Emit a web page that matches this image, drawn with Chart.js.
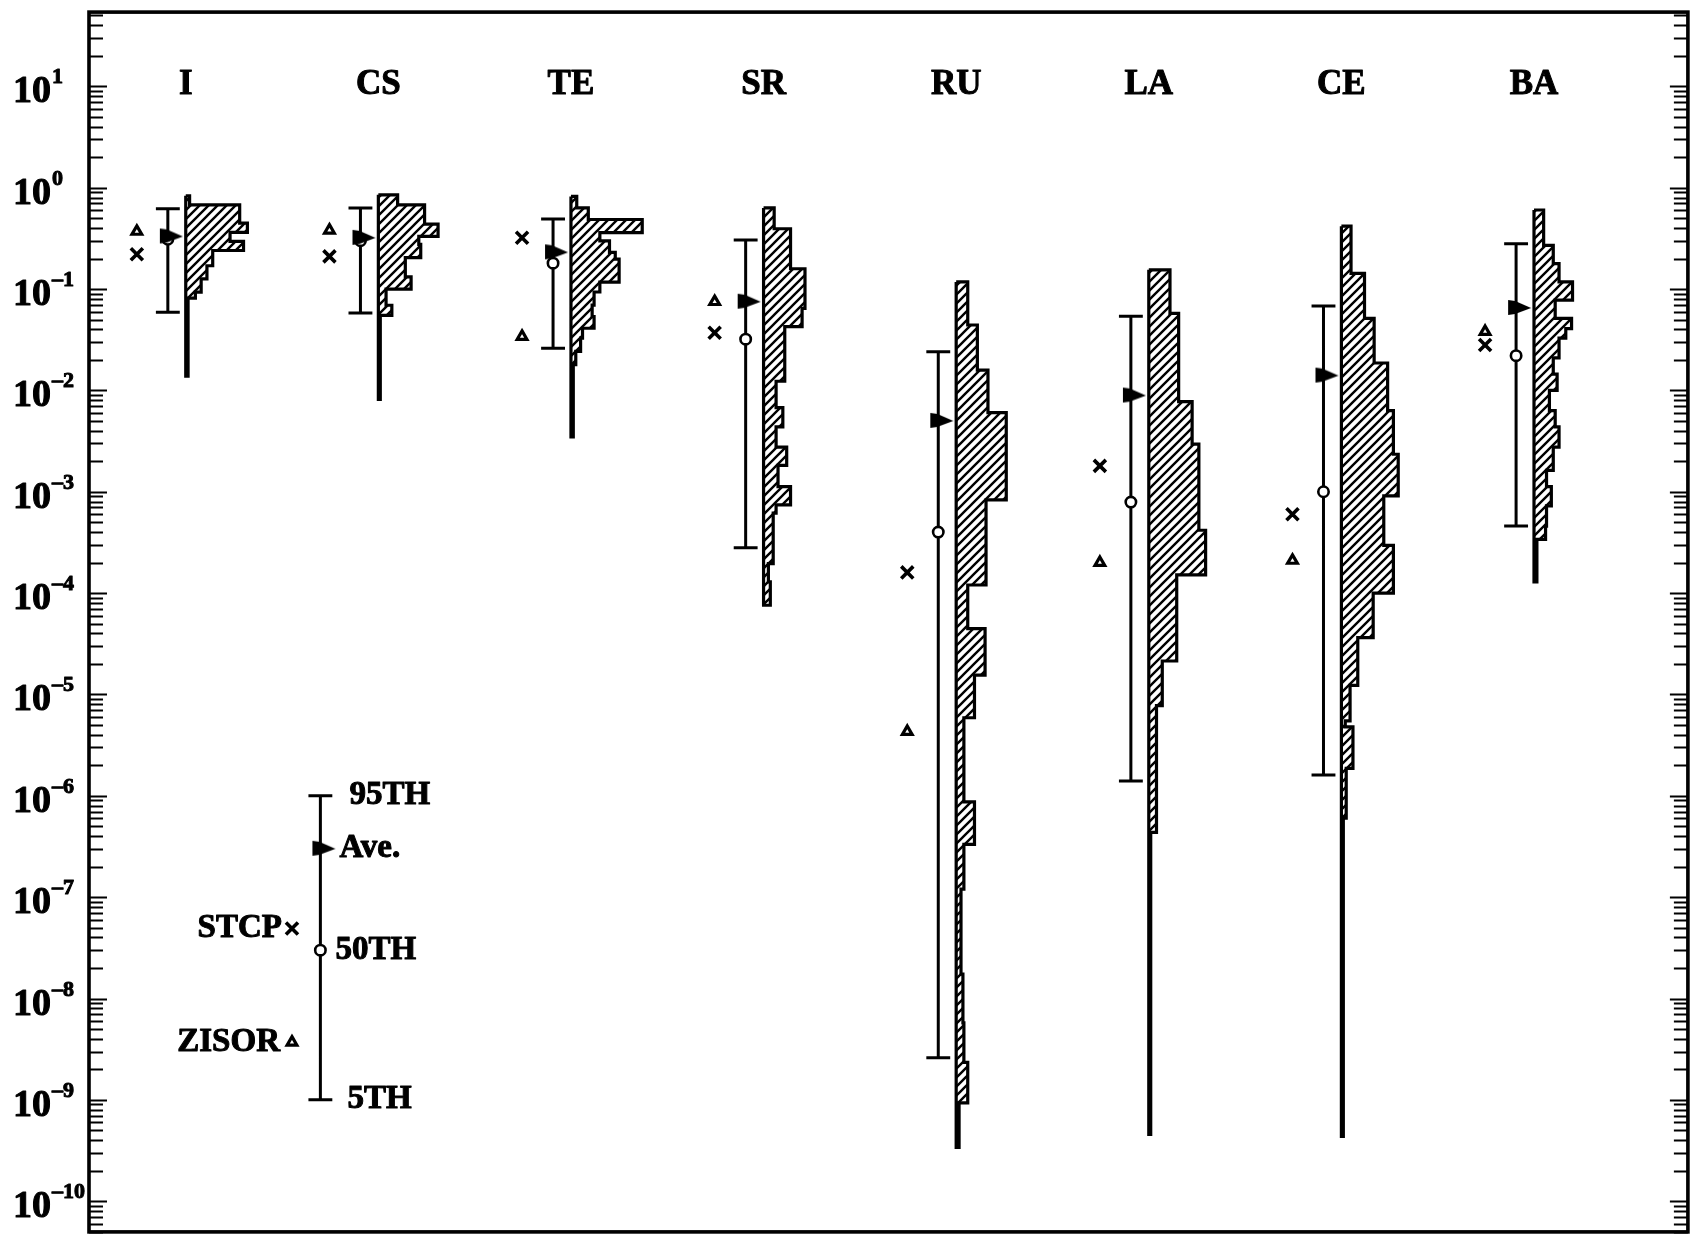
<!DOCTYPE html>
<html>
<head>
<meta charset="utf-8">
<script src="https://cdn.jsdelivr.net/npm/chart.js@4.4.1/dist/chart.umd.min.js"></script>
<style>
  html, body { margin: 0; padding: 0; background: #fff; }
  canvas { display: block; }
</style>
</head>
<body>
<canvas id="chart" width="1700" height="1244"></canvas>
<script>
// Element groups, left to right
const categories = ['I', 'CS', 'TE', 'SR', 'RU', 'LA', 'CE', 'BA'];

// Distribution summary for each group
const p95     = [0.62, 0.63, 0.49, 0.305, 0.024, 0.054, 0.068, 0.28];
const p5      = [0.059, 0.058, 0.026, 2.8e-4, 2.6e-9, 1.4e-6, 1.6e-6, 4.6e-4];
const average = [0.33, 0.32, 0.23, 0.075, 5.0e-3, 8.9e-3, 0.014, 0.065];
const median  = [0.31, 0.30, 0.18, 0.032, 4.0e-4, 7.9e-4, 1.0e-3, 0.022];

// Point estimates from the two codes
const stcp  = [0.22, 0.21, 0.32, 0.037, 1.6e-4, 1.8e-3, 6.0e-4, 0.028];
const zisor = [0.37, 0.38, 0.034, 0.075, 4.3e-6, 2.0e-4, 2.1e-4, 0.038];

// Histograms: bin edges as powers of ten (top to bottom) and bin frequencies
const edgesI  = [-0.08, -0.17, -0.35, -0.44, -0.53, -0.62, -0.77, -0.90, -1.03, -1.09, -1.86];
const freqI   = [2, 28, 32, 23, 30, 14, 11, 8, 5, 1.2];
const edgesCS = [-0.07, -0.17, -0.36, -0.48, -0.56, -0.69, -0.88, -1.00, -1.16, -1.26, -2.09];
const freqCS  = [10, 24, 31, 21, 22, 14, 17, 4, 7, 1];
const edgesTE = [-0.086, -0.20, -0.314, -0.444, -0.525, -0.639, -0.704, -0.932, -1.029, -1.159, -1.273, -1.387, -1.485, -1.615, -1.745, -2.46];
const freqTE  = [3, 9, 37, 15, 20, 23, 25, 15, 12, 11, 12, 6, 5, 2.5, 1.2];
const edgesSR = [-0.20, -0.405, -0.80, -1.19, -1.37, -1.91, -2.17, -2.36, -2.56, -2.74, -2.95, -3.13, -3.21, -3.71, -3.89, -4.12];
const freqSR  = [5.5, 14, 21.5, 20, 11, 6.5, 10, 6.5, 12, 7.5, 14, 6.5, 5, 2.5, 3.5];
const edgesRU = [-0.93, -1.355, -1.80, -2.22, -3.08, -3.92, -4.35, -4.81, -5.23, -6.06, -6.48, -6.92, -7.76, -8.24, -8.63, -9.03, -9.47];
const freqRU  = [6, 11, 16.5, 26, 15.5, 6, 15, 9.5, 4, 9.5, 4, 2.5, 3.5, 4, 6, 1.5];
const edgesLA = [-0.81, -1.24, -2.11, -2.53, -3.38, -3.82, -4.67, -5.11, -6.36, -9.34];
const freqLA  = [11, 15.5, 22.5, 26, 29.5, 14.5, 7, 4, 1];
const edgesCE = [-0.38, -0.845, -1.29, -1.73, -2.20, -2.63, -3.04, -3.53, -4.00, -4.44, -4.91, -5.26, -5.32, -5.73, -6.22, -9.36];
const freqCE  = [5, 12, 17, 24, 27, 29.5, 22, 27, 16.5, 8.5, 4.5, 2, 6, 2.5, 1];
const edgesBA = [-0.22, -0.57, -0.75, -0.93, -1.11, -1.29, -1.39, -1.485, -1.68, -1.84, -2.00, -2.20, -2.36, -2.56, -2.79, -2.95, -3.14, -3.34, -3.47, -3.89];
const freqBA  = [5, 10, 13, 20, 11, 19.5, 16.5, 13, 10, 12, 8, 11, 13, 10, 6.5, 9, 6.5, 6, 1.5];

// Y axis decades that carry a label
const decadeExponents = [1, 0, -1, -2, -3, -4, -5, -6, -7, -8, -9, -10];

// Key (explanation of the symbols)
const keyP95 = 1e-6, keyAve = 3e-7, keyMedian = 3e-8, keyP5 = 1e-9;
const keySTCP = 4.9e-8, keyZISOR = 3.7e-9;
const keyLabels = { p95: '95TH', ave: 'Ave.', median: '50TH', p5: '5TH', stcp: 'STCP', zisor: 'ZISOR' };

// ---- layout constants (x axis unit = spacing between groups) ----
const BAR_DX = -0.093;     // percentile bar left of the histogram base
const MARK_DX = -0.254;    // STCP / ZISOR symbols
const CAP = 0.062;         // half width of whisker caps
const FREQ_UNIT = 0.01;    // x extent of one frequency unit
const KEY_X = 0.699, KEY_MARK_X = 0.5515;
const SERIF = '"Liberation Serif", "DejaVu Serif", serif';

const histEdges = [edgesI, edgesCS, edgesTE, edgesSR, edgesRU, edgesLA, edgesCE, edgesBA];
const histFreq  = [freqI, freqCS, freqTE, freqSR, freqRU, freqLA, freqCE, freqBA];

function hatchPattern() {
  const s = 9;
  const c = document.createElement('canvas');
  c.width = s; c.height = s;
  const g = c.getContext('2d');
  g.fillStyle = '#fff';
  g.fillRect(0, 0, s, s);
  g.strokeStyle = '#000';
  g.lineWidth = 2.4;
  g.beginPath();
  g.moveTo(0, s); g.lineTo(s, 0);
  g.moveTo(-s / 2, s / 2); g.lineTo(s / 2, -s / 2);
  g.moveTo(s / 2, s * 1.5); g.lineTo(s * 1.5, s / 2);
  g.stroke();
  return g.createPattern(c, 'repeat');
}

function flagGlyph() {
  const c = document.createElement('canvas');
  c.width = 36; c.height = 24;
  const g = c.getContext('2d');
  g.translate(18, 12);
  g.fillStyle = '#000';
  g.beginPath();
  g.moveTo(-8, -8); g.lineTo(-1, -7); g.lineTo(15, 0); g.lineTo(-1, 6); g.lineTo(-8, 7);
  g.closePath();
  g.fill();
  return c;
}

// closed stepped outline of one histogram standing on x = i
function histOutline(i, edges, freq) {
  const pts = [{ x: i, y: 10 ** edges[0] }];
  freq.forEach((f, k) => {
    pts.push({ x: i + f * FREQ_UNIT, y: 10 ** edges[k] });
    pts.push({ x: i + f * FREQ_UNIT, y: 10 ** edges[k + 1] });
  });
  pts.push({ x: i, y: 10 ** edges[edges.length - 1] });
  pts.push({ x: i, y: 10 ** edges[0] });
  return pts;
}

function whisker(x, hi, lo) {
  return [
    { x: x - CAP, y: hi }, { x: x + CAP, y: hi }, { x: x, y: null },
    { x: x, y: hi }, { x: x, y: lo }, { x: x, y: null },
    { x: x - CAP, y: lo }, { x: x + CAP, y: lo }, { x: x, y: null }
  ];
}

const hatch = hatchPattern();
const flag = flagGlyph();

const datasets = [];
categories.forEach((name, i) => {
  datasets.push({
    label: name + ' histogram',
    data: histOutline(i, histEdges[i], histFreq[i]),
    showLine: true,
    fill: 'shape',
    backgroundColor: hatch,
    borderColor: '#000',
    borderWidth: 3.2,
    borderJoinStyle: 'miter',
    pointRadius: 0,
    tension: 0,
    order: 5
  });
});

const whiskerData = [];
categories.forEach((_, i) => whiskerData.push(...whisker(i + BAR_DX, p95[i], p5[i])));
whiskerData.push(...whisker(KEY_X, keyP95, keyP5));
datasets.push({
  label: '5th-95th percentile',
  data: whiskerData,
  showLine: true, spanGaps: false, fill: false,
  borderColor: '#000', borderWidth: 3,
  pointRadius: 0, order: 4
});

datasets.push({
  label: 'Ave.',
  data: categories.map((_, i) => ({ x: i + BAR_DX, y: average[i] })).concat([{ x: KEY_X, y: keyAve }]),
  showLine: false, pointStyle: flag, pointRadius: 10, order: 2
});
datasets.push({
  label: '50TH',
  data: categories.map((_, i) => ({ x: i + BAR_DX, y: median[i] })).concat([{ x: KEY_X, y: keyMedian }]),
  showLine: false, pointStyle: 'circle', pointRadius: 5.2,
  pointBackgroundColor: '#fff', pointBorderColor: '#000', pointBorderWidth: 2.6, order: 3
});
datasets.push({
  label: 'STCP',
  data: categories.map((_, i) => ({ x: i + MARK_DX, y: stcp[i] })).concat([{ x: KEY_MARK_X, y: keySTCP }]),
  showLine: false, pointStyle: 'crossRot', pointRadius: 8.5,
  pointBorderColor: '#000', pointBorderWidth: 3.6, order: 1
});
datasets.push({
  label: 'ZISOR',
  data: categories.map((_, i) => ({ x: i + MARK_DX, y: zisor[i] })).concat([{ x: KEY_MARK_X, y: keyZISOR }]),
  showLine: false, pointStyle: 'triangle', pointRadius: 5.6,
  pointBackgroundColor: '#fff', pointBorderColor: '#000', pointBorderWidth: 3.2, order: 1
});

// draws text with a thin outline so the serif face reads heavier
function boldText(ctx, str, x, y) {
  ctx.fillText(str, x, y);
  ctx.strokeText(str, x, y);
}

const framePlugin = {
  id: 'frame',
  afterDatasetsDraw(chart) {
    const { ctx, chartArea: a, scales: { x, y } } = chart;
    ctx.save();
    ctx.strokeStyle = '#000';
    ctx.fillStyle = '#000';
    ctx.lineWidth = 3.6;
    ctx.strokeRect(a.left, a.top, a.right - a.left, a.bottom - a.top);

    // inward logarithmic ticks on both vertical sides
    ctx.lineWidth = 2.2;
    for (let e = -11; e <= 1; e++) {
      for (let m = 1; m <= 9; m++) {
        const v = m * Math.pow(10, e);
        if (v < y.min || v > y.max) continue;
        const py = Math.round(y.getPixelForValue(v)) + 0.5;
        const len = m === 1 ? 18 : 14;
        ctx.beginPath();
        ctx.moveTo(a.left, py); ctx.lineTo(a.left + len, py);
        ctx.moveTo(a.right, py); ctx.lineTo(a.right - len, py);
        ctx.stroke();
      }
    }

    ctx.lineWidth = 1;
    ctx.lineJoin = 'round';

    // decade labels 10^n
    ctx.textAlign = 'left';
    ctx.textBaseline = 'alphabetic';
    decadeExponents.forEach(n => {
      const py = y.getPixelForValue(Math.pow(10, n));
      ctx.font = 'bold 38px ' + SERIF;
      boldText(ctx, '10', 13, py + 16);
      const w = ctx.measureText('10').width;
      ctx.font = 'bold 22px ' + SERIF;
      boldText(ctx, String(n).replace('-', '\u2013'), 13 + w + 1, py - 3);
    });

    // group names
    ctx.font = 'bold 35px ' + SERIF;
    ctx.textAlign = 'center';
    ctx.textBaseline = 'middle';
    const nameY = y.getPixelForValue(10) - 1;
    categories.forEach((name, i) => boldText(ctx, name, x.getPixelForValue(i), nameY));

    // key labels
    ctx.font = 'bold 33px ' + SERIF;
    const kx = x.getPixelForValue(KEY_X);
    const mx = x.getPixelForValue(KEY_MARK_X);
    ctx.textAlign = 'left';
    boldText(ctx, keyLabels.p95, kx + 29, y.getPixelForValue(keyP95));
    boldText(ctx, keyLabels.ave, kx + 19, y.getPixelForValue(keyAve));
    boldText(ctx, keyLabels.median, kx + 15, y.getPixelForValue(keyMedian));
    boldText(ctx, keyLabels.p5, kx + 27, y.getPixelForValue(keyP5));
    ctx.textAlign = 'right';
    boldText(ctx, keyLabels.stcp, mx - 10, y.getPixelForValue(keySTCP));
    boldText(ctx, keyLabels.zisor, mx - 12, y.getPixelForValue(keyZISOR));
    ctx.restore();
  }
};

new Chart(document.getElementById('chart'), {
  type: 'line',
  data: { datasets },
  options: {
    responsive: false,
    animation: false,
    events: [],
    layout: { padding: { left: 89, right: 8, top: 7, bottom: 4 } },
    plugins: { legend: { display: false }, tooltip: { enabled: false } },
    scales: {
      x: { type: 'linear', display: false, min: -0.5023, max: 7.799 },
      y: { type: 'logarithmic', display: false, min: 4.98e-11, max: 54 }
    }
  },
  plugins: [framePlugin]
});
</script>
</body>
</html>
